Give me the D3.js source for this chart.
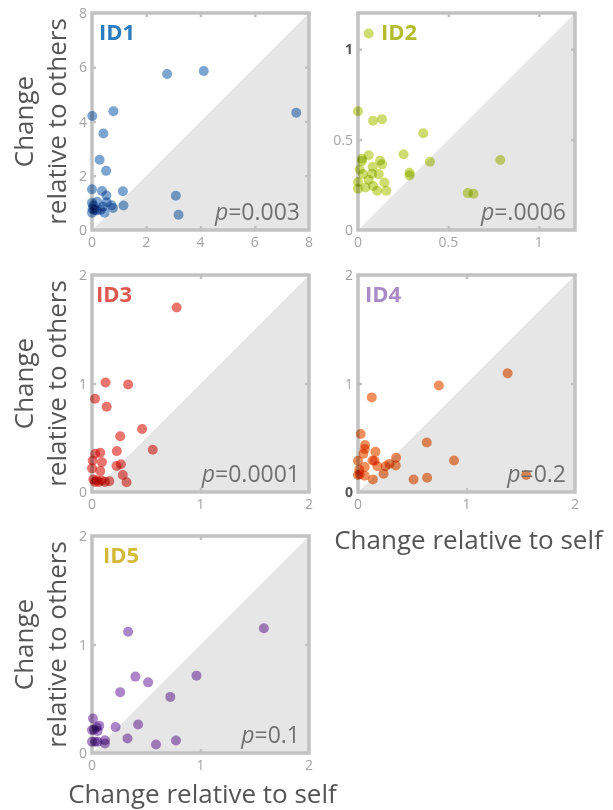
<!DOCTYPE html>
<html>
<head>
<meta charset="utf-8">
<script src="https://cdn.jsdelivr.net/npm/d3@7"></script>
<style>
body { margin: 0; background: #fff; }
text { font-family: "Open Sans", sans-serif; }
</style>
</head>
<body>
<script>
// values: x = change relative to self, y = change relative to others
var id1Self   = [2.77, 4.12, 7.53, 0.01, 0.79, 0.42, 0.28, 0.52, 0.00, 0.37, 0.53, 1.14, 3.09, 3.19,
                 1.16, 0.77, 0.72, 0.54, 0.19, 0.00, 0.05, 0.02, 0.09, 0.17, 0.32, 0.46, 0.40, 0.00];
var id1Others = [5.75, 5.86, 4.32, 4.20, 4.38, 3.56, 2.59, 2.18, 1.50, 1.44, 1.27, 1.43, 1.26, 0.56,
                 0.90, 0.81, 0.91, 1.02, 1.04, 1.00, 0.90, 0.78, 0.74, 0.72, 0.74, 0.64, 0.86, 0.64];

var id2Self   = [0.059, 0.000, 0.083, 0.133, 0.361, 0.252, 0.398, 0.787, 0.607, 0.639, 0.285, 0.285,
                 0.059, 0.022, 0.022, 0.081, 0.122, 0.133, 0.009, 0.028, 0.078, 0.115, 0.059, 0.000,
                 0.000, 0.041, 0.083, 0.106, 0.146, 0.157];
var id2Others = [1.087, 0.657, 0.604, 0.613, 0.535, 0.419, 0.378, 0.387, 0.204, 0.200, 0.317, 0.302,
                 0.413, 0.394, 0.381, 0.350, 0.383, 0.363, 0.335, 0.309, 0.311, 0.309, 0.278, 0.265,
                 0.228, 0.235, 0.243, 0.217, 0.263, 0.217];

var id3Self   = [0.78, 0.125, 0.333, 0.028, 0.135, 0.462, 0.26, 0.56, 0.229, 0.03, 0.076, 0.006, 0.092,
                 0.266, 0.226, 0.00, 0.076, 0.284, 0.318, 0.012, 0.043, 0.089, 0.119, 0.159, 0.028, 0.061];
var id3Others = [1.70, 1.01, 0.99, 0.86, 0.785, 0.58, 0.514, 0.39, 0.377, 0.352, 0.361, 0.29, 0.274,
                 0.255, 0.24, 0.218, 0.193, 0.156, 0.09, 0.115, 0.109, 0.106, 0.093, 0.10, 0.093, 0.093];

var id4Self   = [1.379, 0.745, 0.127, 0.025, 0.634, 0.065, 0.062, 0.050, 0.161, 0.885, 0.351, 0.000,
                 0.134, 0.152, 0.289, 0.180, 0.255, 0.348, 0.012, 0.062, 0.000, 0.016, 0.062, 0.236,
                 0.137, 0.512, 0.637, 1.55];
var id4Others = [1.094, 0.981, 0.872, 0.534, 0.456, 0.434, 0.397, 0.353, 0.372, 0.290, 0.316, 0.288,
                 0.290, 0.288, 0.259, 0.238, 0.238, 0.244, 0.206, 0.231, 0.156, 0.163, 0.150, 0.169,
                 0.116, 0.116, 0.131, 0.156];

var id5Self   = [1.584, 0.333, 0.40, 0.963, 0.517, 0.26, 0.722, 0.009, 0.425, 0.217, 0.067, 0.043,
                 0.00, 0.018, 0.052, 0.327, 0.774, 0.59, 0.119, 0.119, 0.00, 0.028, 0.052];
var id5Others = [1.15, 1.118, 0.704, 0.713, 0.651, 0.561, 0.517, 0.318, 0.262, 0.24, 0.252, 0.237,
                 0.212, 0.215, 0.202, 0.134, 0.115, 0.078, 0.118, 0.087, 0.103, 0.103, 0.103];

// axis ticks per panel
var ticksId1 = [0, 2, 4, 6, 8];
var ticksId2 = [0, 0.5, 1];
var ticksRest = [0, 1, 2];

var names = ["ID1", "ID2", "ID3", "ID4", "ID5"];
var pLabels = ["=0.003", "=.0006", "=0.0001", "=0.2", "=0.1"];

var width = 613, height = 810;
var size = 217;
var colX = [92, 358];
var rowY = [13, 275, 536];

// darkY: the y tick label that is printed darker in the original
var panels = [
  {self: id1Self, others: id1Others, max: 8,   ticks: ticksId1,  col: 0, row: 0, label: "#2b7bbf", dot: "#5b8ec6", lx: 7,  darkY: null},
  {self: id2Self, others: id2Others, max: 1.2, ticks: ticksId2,  col: 1, row: 0, label: "#b3bc2a", dot: "#c2d54c", lx: 23, darkY: 1},
  {self: id3Self, others: id3Others, max: 2,   ticks: ticksRest, col: 0, row: 1, label: "#e0574f", dot: "#e5524a", lx: 4,  darkY: null},
  {self: id4Self, others: id4Others, max: 2,   ticks: ticksRest, col: 1, row: 1, label: "#a98ac6", dot: "#ec7433", lx: 7,  darkY: 0},
  {self: id5Self, others: id5Others, max: 2,   ticks: ticksRest, col: 0, row: 2, label: "#d2b93a", dot: "#9868bb", lx: 11, darkY: null}
];

var svg = d3.select("body")
  .append("svg")
  .attr("width", width)
  .attr("height", height);

panels.forEach(function(p, i) {
  var g = svg.append("g")
    .attr("transform", "translate(" + colX[p.col] + "," + rowY[p.row] + ")");

  var x = d3.scaleLinear().domain([0, p.max]).range([0, size]);
  var y = d3.scaleLinear().domain([0, p.max]).range([size, 0]);

  // shaded area below the identity line
  g.append("path")
    .attr("d", "M" + x(0) + "," + y(0) + "L" + x(p.max) + "," + y(p.max) + "L" + x(p.max) + "," + y(0) + "Z")
    .attr("fill", "#e6e6e6");
  g.append("line")
    .attr("x1", x(0)).attr("y1", y(0))
    .attr("x2", x(p.max)).attr("y2", y(p.max))
    .attr("stroke", "#f7f7f7")
    .attr("stroke-width", 0.8);

  // frame with inward ticks on all sides
  g.append("rect")
    .attr("x", 0).attr("y", 0)
    .attr("width", size).attr("height", size)
    .attr("fill", "none")
    .attr("stroke", "#c2c2c2")
    .attr("stroke-width", 3.5);

  var inner = p.ticks.filter(function(t) { return t > 0 && t < p.max; });
  g.append("g").attr("transform", "translate(0," + size + ")")
    .call(d3.axisBottom(x).tickValues(inner).tickSize(-4).tickFormat(""));
  g.append("g")
    .call(d3.axisTop(x).tickValues(inner).tickSize(-4).tickFormat(""));
  g.append("g")
    .call(d3.axisLeft(y).tickValues(inner).tickSize(-4).tickFormat(""));
  g.append("g").attr("transform", "translate(" + size + ",0)")
    .call(d3.axisRight(y).tickValues(inner).tickSize(-4).tickFormat(""));
  g.selectAll(".domain").remove();
  g.selectAll(".tick line").attr("stroke", "#c2c2c2").attr("stroke-width", 2.5);

  // tick labels
  g.selectAll(".xlab")
    .data(p.ticks)
    .enter()
    .append("text")
    .attr("x", function(d) { return x(d); })
    .attr("y", size + 17)
    .attr("text-anchor", "middle")
    .style("font-size", "14px")
    .style("fill", "#a4a4a4")
    .text(function(d) { return d; });

  g.selectAll(".ylab")
    .data(p.ticks)
    .enter()
    .append("text")
    .attr("x", -5)
    .attr("y", function(d) { return y(d) + 5; })
    .attr("text-anchor", "end")
    .style("font-size", "14px")
    .style("font-weight", function(d) { return d === p.darkY ? "bold" : "normal"; })
    .style("fill", function(d) { return d === p.darkY ? "#555" : "#a4a4a4"; })
    .text(function(d) { return d; });

  // dots
  g.append("g")
    .selectAll("circle")
    .data(p.self.map(function(d, k) { return [d, p.others[k]]; }))
    .enter()
    .append("circle")
    .attr("cx", function(d) { return x(d[0]); })
    .attr("cy", function(d) { return y(d[1]); })
    .attr("r", 5)
    .attr("fill", p.dot)
    .attr("fill-opacity", 0.8)
    .style("mix-blend-mode", "multiply");

  // panel name
  g.append("text")
    .attr("x", p.lx)
    .attr("y", 27)
    .style("font-size", "22px")
    .style("font-weight", "bold")
    .style("fill", p.label)
    .text(names[i]);

  // p value
  var pt = g.append("text")
    .attr("x", size - 9)
    .attr("y", size - 10)
    .attr("text-anchor", "end")
    .style("font-size", "23px")
    .style("fill", "#707070");
  pt.append("tspan").style("font-style", "italic").text("p");
  pt.append("tspan").text(pLabels[i]);
});

// y axis titles, one per row
rowY.forEach(function(ry) {
  var cy = ry + size / 2;
  svg.append("text")
    .attr("transform", "translate(33," + cy + ") rotate(-90)")
    .attr("text-anchor", "middle")
    .style("font-size", "26px")
    .style("fill", "#555")
    .text("Change");
  svg.append("text")
    .attr("transform", "translate(66," + cy + ") rotate(-90)")
    .attr("text-anchor", "middle")
    .style("font-size", "26px")
    .style("fill", "#555")
    .text("relative to others");
});

// x axis titles under the bottom panel of each column
svg.append("text")
  .attr("x", colX[1] + size / 2 + 2)
  .attr("y", rowY[1] + size + 57)
  .attr("text-anchor", "middle")
  .style("font-size", "26px")
  .style("fill", "#555")
  .text("Change relative to self");

svg.append("text")
  .attr("x", colX[0] + size / 2 + 2)
  .attr("y", rowY[2] + size + 50)
  .attr("text-anchor", "middle")
  .style("font-size", "26px")
  .style("fill", "#555")
  .text("Change relative to self");
</script>
</body>
</html>
